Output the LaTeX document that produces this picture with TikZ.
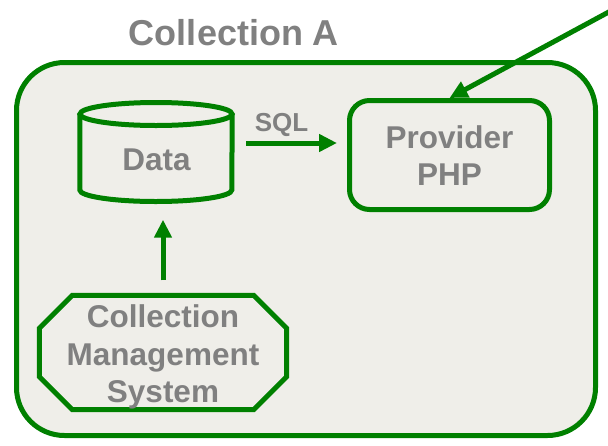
\documentclass[tikz,border=0pt]{standalone}
\usepackage{fontspec}
\setmainfont{Liberation Sans}
\usetikzlibrary{arrows.meta,backgrounds}
\definecolor{grn}{RGB}{0,128,0}
\definecolor{txt}{RGB}{128,128,128}
\definecolor{bg}{RGB}{239,238,233}
\begin{document}
\begin{tikzpicture}[x=1pt,y=-1pt,
  lbl/.style={font=\bfseries\fontsize{31.5}{37.5}\selectfont, text=txt, align=center, inner sep=0pt},
  titlelbl/.style={font=\bfseries\fontsize{36}{40}\selectfont, text=txt, inner sep=0pt},
  sqllbl/.style={font=\bfseries\fontsize{26}{30}\selectfont, text=txt, inner sep=0pt},
  shp/.style={draw=grn, fill=bg, line width=5pt},
  arr/.style={draw=grn, line width=5pt, -{Triangle[length=18pt,width=17pt]}}]
\useasboundingbox (0,0) rectangle (608,445);
\node[titlelbl] (title) at (234,33) {Collection A};
% octagon frame node
\node[minimum width=247pt, minimum height=114pt, inner sep=0pt] (cms) at (163,352.5) {};
\begin{pgfonlayer}{background}
  \node[shp, rounded corners=48pt, minimum width=579pt, minimum height=373pt, inner sep=0pt] (coll) at (306,249) {};
  \draw[shp] ([xshift=33pt]cms.north west) -- ([xshift=-33pt]cms.north east)
    -- ([yshift=-33pt]cms.north east) -- ([yshift=33pt]cms.south east)
    -- ([xshift=-33pt]cms.south east) -- ([xshift=33pt]cms.south west)
    -- ([yshift=33pt]cms.south west) -- ([yshift=-33pt]cms.north west) -- cycle;
\end{pgfonlayer}
\node[lbl] (cmstxt) at (163,357) {Collection\\Management\\System};
% cylinder
\node[minimum width=152pt, minimum height=99pt, inner sep=0pt] (data) at (156,152) {};
\draw[shp] (data.west |- 0,114) -- (data.west |- 0,190)
  arc[start angle=180, end angle=360, x radius=76pt, y radius=11.5pt] -- (data.east |- 0,114);
\draw[shp] (156,114) ellipse [x radius=76pt, y radius=11.5pt];
\node[lbl] (datatxt) at (156.5,160) {Data};
% provider
\node[shp, rounded corners=20pt, minimum width=200pt, minimum height=109pt, inner sep=0pt] (prov) at (449.5,155) {};
\node[lbl] (provtxt) at (449.5,155.5) {Provider\\PHP};
% arrows
\coordinate (sqlrow) at (0,143);
\coordinate (ext) at (618,7);
\draw[arr, shorten <=14pt, shorten >=10pt] (data.east |- sqlrow) -- (prov.west |- sqlrow);
\node[sqllbl] (sql) at (281.5,125) {SQL};
\draw[arr, shorten <=15pt, shorten >=18pt] (cms.north -| 163,0) -- (data.south -| 163,0);
\draw[arr] (ext) -- (prov.north);
\end{tikzpicture}
\end{document}
